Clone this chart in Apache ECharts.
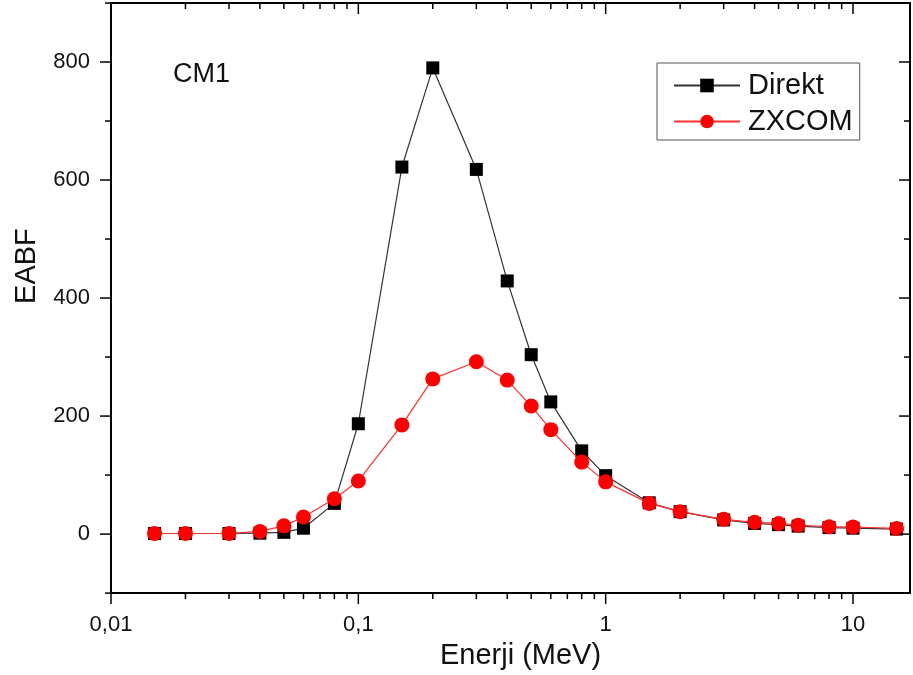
<!DOCTYPE html>
<html>
<head>
<meta charset="utf-8">
<script src="https://cdn.jsdelivr.net/npm/echarts@6/dist/echarts.min.js"></script>
<style>
  html, body { margin: 0; padding: 0; background: #fff; }
  #chart { width: 913px; height: 675px; }
</style>
</head>
<body>
<div id="chart"></div>
<script>
// ---- data ----
const energies = [0.015, 0.02, 0.03, 0.04, 0.05, 0.06, 0.08, 0.1, 0.15, 0.2, 0.3, 0.4, 0.5, 0.6, 0.8, 1, 1.5, 2, 3, 4, 5, 6, 8, 10, 15];
const direkt = [1, 1, 1, 1.5, 3, 10, 52, 187, 622, 790, 618, 429, 304, 224, 141, 99, 53, 38, 24, 18, 16, 13.5, 11, 10, 8.5];
const zxcom  = [1, 1, 1, 4.5, 14, 29, 60, 90, 185, 263, 292, 261, 217, 177, 122, 88.5, 52, 38, 25, 20, 18, 15, 12.5, 12, 9.6];
const seriesNames = ['Direkt', 'ZXCOM'];

// ---- axes / ticks ----
const xMin = 0.01, xMax = 17;
const yMin = -100, yMax = 900;
const xMajorTicks = [0.01, 0.1, 1, 10];
const xMinorTicks = [0.02, 0.03, 0.04, 0.05, 0.06, 0.07, 0.08, 0.09,
                     0.2, 0.3, 0.4, 0.5, 0.6, 0.7, 0.8, 0.9,
                     2, 3, 4, 5, 6, 7, 8, 9];
const xTickLabels = { '0.01': '0,01', '0.1': '0,1', '1': '1', '10': '10' };
const yMajorTicks = [0, 200, 400, 600, 800];
const yMinorTicks = [-100, 100, 300, 500, 700, 900];
const annotation = 'CM1';

const FONT = 'Liberation Sans, Arial, sans-serif';

const tickData = [];
xMajorTicks.forEach(v => tickData.push([v, yMin, 0]));
xMinorTicks.forEach(v => tickData.push([v, yMin, 1]));
yMajorTicks.forEach(v => tickData.push([xMin, v, 2]));
yMinorTicks.forEach(v => tickData.push([xMin, v, 3]));

const MAJ = 11, MIN = 6;
function tickItem(params, api) {
  const kind = api.value(2);
  const style = { stroke: '#000', lineWidth: 1.5 };
  const children = [];
  if (kind === 0 || kind === 1) {
    const len = kind === 0 ? MAJ : MIN;
    const b = api.coord([api.value(0), yMin]);
    const t = api.coord([api.value(0), yMax]);
    children.push({ type: 'line', shape: { x1: b[0], y1: b[1], x2: b[0], y2: b[1] + len }, style });
    children.push({ type: 'line', shape: { x1: t[0], y1: t[1], x2: t[0], y2: t[1] + len }, style });
  } else {
    const len = kind === 2 ? MAJ : MIN;
    const l = api.coord([xMin, api.value(1)]);
    const r = api.coord([xMax, api.value(1)]);
    children.push({ type: 'line', shape: { x1: l[0] - len, y1: l[1], x2: l[0], y2: l[1] }, style });
    children.push({ type: 'line', shape: { x1: r[0] - len, y1: r[1], x2: r[0], y2: r[1] }, style });
  }
  return { type: 'group', children };
}

function xLabel(v) {
  const lg = Math.log10(v);
  if (Math.abs(lg - Math.round(lg)) > 1e-6) return '';
  const key = String(Math.pow(10, Math.round(lg)));
  return xTickLabels[key] || '';
}

const chart = echarts.init(document.getElementById('chart'), null, { renderer: 'canvas' });
chart.setOption({
  animation: false,
  backgroundColor: '#fff',
  textStyle: { fontFamily: FONT },
  title: {
    text: annotation, left: 173, top: 61, padding: 0,
    textStyle: { fontSize: 27, fontWeight: 'normal', color: '#111', fontFamily: FONT }
  },
  legend: {
    data: seriesNames,
    orient: 'vertical',
    left: 657, top: 63,
    padding: [8, 7, 4, 16],
    itemGap: 7,
    itemWidth: 66, itemHeight: 17,
    borderColor: '#555', borderWidth: 1,
    backgroundColor: '#fff',
    textStyle: { fontSize: 29, color: '#111', fontFamily: FONT, padding: [0, 0, 0, 3] }
  },
  grid: {
    left: 111, right: 2, top: 3, bottom: 79,
    show: true, borderColor: '#000', borderWidth: 2, backgroundColor: 'transparent'
  },
  xAxis: {
    type: 'log', logBase: 10, min: xMin, max: xMax,
    axisLine: { show: false, onZero: false },
    axisTick: { show: false },
    splitLine: { show: false },
    axisLabel: { formatter: xLabel, fontSize: 22, color: '#111', margin: 21, fontFamily: FONT },
    name: 'Enerji (MeV)', nameLocation: 'middle', nameGap: 40,
    nameTextStyle: { fontSize: 29, color: '#111', fontFamily: FONT, padding: [0, 0, 0, 20] }
  },
  yAxis: {
    type: 'value', min: yMin, max: yMax, interval: 100,
    axisLine: { show: false },
    axisTick: { show: false },
    splitLine: { show: false },
    axisLabel: {
      formatter: v => (v >= 0 && v <= 800 && v % 200 === 0) ? String(v) : '',
      fontSize: 22, color: '#111', margin: 21, fontFamily: FONT
    },
    name: 'EABF', nameLocation: 'middle', nameGap: 70, nameRotate: 90,
    nameTextStyle: { fontSize: 29, color: '#111', fontFamily: FONT, padding: [0, 0, 0, 64] }
  },
  series: [
    {
      name: seriesNames[0], type: 'line',
      data: energies.map((e, i) => [e, direkt[i]]),
      symbol: 'rect', symbolSize: 13,
      itemStyle: { color: '#000' },
      lineStyle: { color: '#333', width: 1.2 },
      z: 3
    },
    {
      name: seriesNames[1], type: 'line',
      data: energies.map((e, i) => [e, zxcom[i]]),
      symbol: 'circle', symbolSize: 15,
      itemStyle: { color: '#ff0000' },
      lineStyle: { color: '#ff3030', width: 1.2 },
      z: 4
    },
    {
      type: 'custom', name: 'ticks',
      data: tickData,
      encode: { x: 0, y: 1 },
      renderItem: tickItem,
      silent: true, clip: false, z: 10
    }
  ]
});
</script>
</body>
</html>
